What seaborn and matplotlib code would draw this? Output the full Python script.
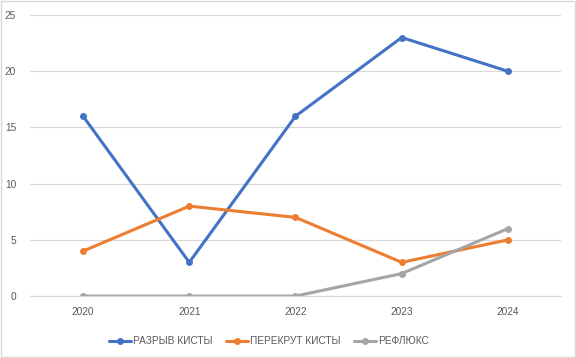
import matplotlib
matplotlib.use("Agg")
import matplotlib.pyplot as plt
import pandas as pd
import seaborn as sb

years = ["2020", "2021", "2022", "2023", "2024"]
razryv = [16, 3, 16, 23, 20]
perekrut = [4, 8, 7, 3, 5]
refluks = [0, 0, 0, 2, 6]

series_names = ["РАЗРЫВ КИСТЫ", "ПЕРЕКРУТ КИСТЫ", "РЕФЛЮКС"]
colors = ["#4472C4", "#ED7D31", "#A5A5A5"]

df = pd.DataFrame({"year": years, series_names[0]: razryv,
                   series_names[1]: perekrut, series_names[2]: refluks})
df = df.melt(id_vars="year", var_name="series", value_name="value")

sb.set_style("white")
plt.rcParams["font.family"] = ["Liberation Sans", "DejaVu Sans"]

fig = plt.figure(figsize=(5.76, 3.58), dpi=100)
ax = fig.add_axes([0.052, 0.173, 0.922, 0.785])

sb.lineplot(data=df, x="year", y="value", hue="series", palette=colors,
            marker="o", markersize=5, markeredgewidth=0, linewidth=2.2,
            sort=False, ax=ax)

ax.set_xlim(-0.5, 4.5)
ax.set_ylim(0, 25)
ax.set_yticks([0, 5, 10, 15, 20, 25])
ax.yaxis.grid(True, color="#D9D9D9", linewidth=0.9)
ax.set_axisbelow(True)
for s in ["top", "right", "left"]:
    ax.spines[s].set_visible(False)
ax.spines["bottom"].set_color("#D9D9D9")
ax.tick_params(axis="both", length=0, labelsize=7.3, colors="#595959", pad=8)
ax.tick_params(axis="y", pad=10)
ax.set_xlabel("")
ax.set_ylabel("")

handles, labels = ax.get_legend_handles_labels()
ax.legend(handles, labels, loc="upper center", bbox_to_anchor=(0.45, -0.11),
          ncol=3, frameon=False, fontsize=7.3, labelcolor="#595959",
          handlelength=2.2, handletextpad=0.2, columnspacing=1.3)

fig.patches.append(plt.Rectangle((0.002, 0.003), 0.996, 0.994, transform=fig.transFigure,
                                 fill=False, edgecolor="#D9D9D9", linewidth=1))

fig.savefig("out.png", dpi=100)
